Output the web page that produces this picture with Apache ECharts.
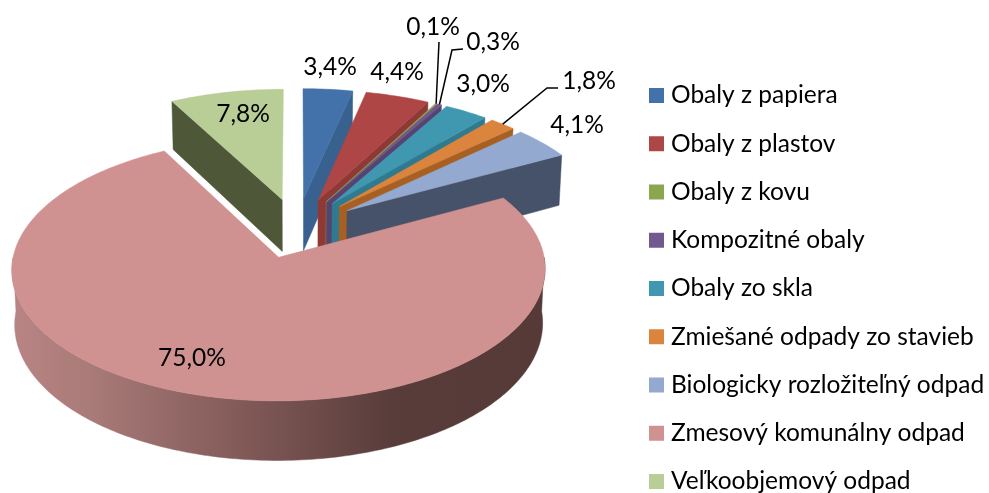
<!DOCTYPE html>
<html>
<head>
<meta charset="utf-8">
<style>html,body{margin:0;padding:0;background:#fff}#c{width:989px;height:493px}</style>
<script src="https://cdn.jsdelivr.net/npm/echarts@6/dist/echarts.min.js"></script>
</head>
<body>
<div id="c"></div>
<script>
// ---- data ----
var categories = ['Obaly z papiera','Obaly z plastov','Obaly z kovu','Kompozitné obaly','Obaly zo skla','Zmiešané odpady zo stavieb','Biologicky rozložiteľný odpad','Zmesový komunálny odpad','Veľkoobjemový odpad'];
var values = [3.4,4.4,0.1,0.3,3.0,1.8,4.1,75.0,7.8];

// ---- styles ----
var topColors  = ['#4272a9','#ad4644','#8aa64f','#71588f','#3f98b0','#db843d','#93a9cf','#d09191','#b9cd96'];
var wallColors = ['#38618f','#8f3836','#6f8540','#574370','#2f7a8e','#a85f22','#465269','#6b4a48','#4f5739'];
var mainGradient = [[0,'#b98584'],[0.15,'#a87a78'],[0.45,'#7f5856'],[0.72,'#573c3a'],[1,'#553a38']];

// ---- layout ----
var EXPLODE = 0.24, PERSP = 0.09, DEPTH = 0.424, BOTTOM_SHRINK = 0.99;
var labelPos = [[330,67],[397,72],[433,27],[493,42],[483,84],[589,81],[577,125],[192,358],[243,114]];
var leaders = {2:[[439,42]],3:[[463,49],[452,50]],5:[[558,88],[547,88]]};

var total = values.reduce(function(a,b){return a+b;},0);
var starts = [], acc = 0;
values.forEach(function(v){ starts.push(acc); acc += v; });
function fmt(v){ return v.toFixed(1).replace('.',',') + '%'; }

function renderSlice(params, api){
  var v = api.value(0), s = api.value(1), idx = api.value(2);
  var a0 = s/total*2*Math.PI, a1 = (s+v)/total*2*Math.PI, mid = (a0+a1)/2;
  var ox = EXPLODE*Math.sin(mid), oy = EXPLODE*Math.cos(mid);
  function world(r,a){ return [ox+r*Math.sin(a), oy+r*Math.cos(a)]; }
  function top(r,a){ var p=world(r,a), w=1+PERSP*p[1]; return api.coord([p[0]/w,p[1]/w]); }
  function bot(r,a){ var p=world(r,a), w=1+PERSP*p[1]; return api.coord([p[0]/w*BOTTOM_SHRINK,(p[1]-DEPTH)/w]); }
  function arc(fn,from,to){ var n=Math.max(2,Math.ceil(Math.abs(to-from)/(Math.PI/180))), o=[];
    for(var i=0;i<=n;i++) o.push(fn(1,from+(to-from)*i/n)); return o; }
  var kids = [];
  function poly(pts,fill){ kids.push({type:'polygon',shape:{points:pts},style:{fill:fill,stroke:fill,lineWidth:0.5},silent:true}); }
  if(Math.sin(a1) > 1e-6) poly([top(0,0),bot(0,0),bot(1,a1),top(1,a1)], wallColors[idx]);
  if(Math.sin(a0) < -1e-6) poly([top(0,0),bot(0,0),bot(1,a0),top(1,a0)], wallColors[idx]);
  var f0 = Math.max(a0,Math.PI/2), f1 = Math.min(a1,Math.PI*1.5);
  if(f1 > f0){
    var pts = arc(top,f0,f1).concat(arc(bot,f0,f1).reverse());
    poly(pts, new echarts.graphic.LinearGradient(0,0,1,0,mainGradient.map(function(g){return {offset:g[0],color:g[1]};})));
  }
  poly([top(0,0)].concat(arc(top,a0,a1)), topColors[idx]);
  if(leaders[idx]){
    kids.push({type:'polyline',shape:{points:leaders[idx].concat([top(1,mid)])},style:{stroke:'#000',lineWidth:1.5,fill:null},silent:true});
  }
  kids.push({type:'text',silent:true,style:{text:fmt(v),x:labelPos[idx][0],y:labelPos[idx][1],align:'center',verticalAlign:'middle',fill:'#000',font:'24.5px Lato'}});
  return {type:'group',children:kids};
}

var chart = echarts.init(document.getElementById('c'));
chart.setOption({
  animation:false,
  backgroundColor:'#fff',
  grid:{left:37,width:520,top:103,height:250},
  xAxis:{type:'value',min:-1,max:1,show:false},
  yAxis:{type:'value',min:-1,max:1,show:false},
  legend:{
    orient:'vertical',left:649,top:83,height:430,padding:0,itemWidth:15,itemHeight:15,itemGap:23.25,
    icon:'rect',
    data:categories,
    selectedMode:false,
    textStyle:{fontFamily:'Lato',fontSize:24.5,lineHeight:25,color:'#000',padding:[0,0,0,2]}
  },
  series:categories.map(function(name,i){
    return {
      name:name,type:'custom',coordinateSystem:'cartesian2d',clip:false,silent:true,
      itemStyle:{color:topColors[i]},
      renderItem:renderSlice,
      data:[[values[i],starts[i],i]]
    };
  })
});
</script>
</body>
</html>
